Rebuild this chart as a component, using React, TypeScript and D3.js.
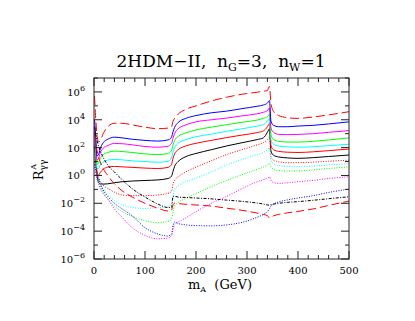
import React from 'react'
import * as d3 from 'd3'

// m_A grid (GeV) shared by every curve
const massA = [1, 3, 6, 9, 12, 18, 27, 40, 55, 75, 100, 125, 145, 152, 155, 158, 165, 180, 200, 230, 260, 290, 320, 332, 340, 344, 347, 352, 362, 380, 400, 430, 460, 500]

// log10 of R^A_gg
const redDashTop = [5.7, 4.3, 2.9, 2.4, 2.5, 3.0, 3.5, 3.75, 3.75, 3.63, 3.47, 3.36, 3.4, 3.5, 3.9, 4.1, 4.4, 4.75, 5.0, 5.35, 5.62, 5.83, 5.98, 6.05, 6.1, 6.4, 5.2, 4.6, 4.3, 4.15, 4.1, 4.2, 4.35, 4.58]
const blueSolid = [4.0, 3.0, 1.4, 1.5, 1.9, 2.35, 2.6, 2.75, 2.7, 2.6, 2.52, 2.47, 2.55, 2.75, 3.15, 3.45, 3.8, 4.1, 4.3, 4.5, 4.62, 4.8, 4.97, 5.06, 5.2, 5.38, 3.9, 3.6, 3.5, 3.5, 3.55, 3.6, 3.7, 3.85]
const magentaSolid = [3.5, 2.5, 1.1, 1.2, 1.6, 1.95, 2.15, 2.3, 2.28, 2.2, 2.08, 2.03, 2.1, 2.3, 2.7, 3.0, 3.35, 3.63, 3.85, 4.0, 4.12, 4.28, 4.43, 4.54, 4.65, 4.85, 3.4, 3.1, 2.95, 2.93, 2.95, 3.0, 3.1, 3.22]
const greenSolid = [3.2, 2.2, 0.8, 0.9, 1.2, 1.5, 1.65, 1.75, 1.72, 1.65, 1.55, 1.5, 1.58, 1.8, 2.2, 2.5, 2.8, 3.05, 3.27, 3.47, 3.65, 3.82, 3.98, 4.1, 4.22, 4.4, 2.9, 2.6, 2.45, 2.4, 2.4, 2.45, 2.55, 2.7]
const cyanSolid = [2.8, 1.8, 0.5, 0.5, 0.75, 0.95, 1.1, 1.15, 1.12, 1.05, 1.0, 0.95, 1.02, 1.25, 1.7, 2.0, 2.3, 2.57, 2.78, 2.97, 3.17, 3.35, 3.55, 3.65, 3.9, 4.1, 2.55, 2.25, 2.12, 2.05, 2.03, 2.06, 2.14, 2.24]
const redSolid = [2.5, 1.5, 0.3, 0.0, 0.2, 0.45, 0.6, 0.65, 0.62, 0.58, 0.53, 0.5, 0.58, 0.8, 1.25, 1.55, 1.85, 2.12, 2.31, 2.52, 2.72, 2.9, 3.08, 3.2, 3.5, 3.75, 2.15, 1.85, 1.73, 1.67, 1.65, 1.7, 1.78, 1.9]
const blackSolid = [2.2, 1.2, 0.0, -0.5, -0.6, -0.62, -0.6, -0.52, -0.45, -0.4, -0.36, -0.32, -0.22, -0.05, 0.3, 0.65, 1.0, 1.35, 1.58, 1.85, 2.12, 2.35, 2.58, 2.7, 3.1, 3.35, 1.75, 1.45, 1.33, 1.26, 1.23, 1.28, 1.36, 1.47]
const redDotted = [1.5, 0.8, 0.2, -0.1, -0.4, -0.7, -0.93, -1.2, -1.4, -1.45, -1.45, -1.4, -1.28, -1.15, -0.6, -0.35, -0.1, 0.25, 0.6, 1.05, 1.5, 1.85, 2.2, 2.35, 2.55, 2.75, 1.35, 1.1, 0.98, 0.92, 0.92, 0.96, 1.02, 1.1]
const cyanDotted = [1.2, 0.5, 0.0, -0.2, -0.5, -0.9, -1.35, -1.8, -2.1, -2.3, -2.37, -2.32, -2.25, -2.0, -1.5, -1.0, -0.75, -0.45, -0.2, 0.25, 0.75, 1.15, 1.5, 1.65, 1.85, 2.0, 1.05, 0.85, 0.72, 0.65, 0.65, 0.68, 0.75, 0.85]
const greenDotted = [1.0, 0.4, -0.1, -0.4, -0.7, -1.2, -1.7, -2.2, -2.6, -2.95, -3.25, -3.38, -3.3, -3.15, -2.6, -2.2, -1.95, -1.65, -1.3, -0.8, -0.35, 0.05, 0.45, 0.6, 0.75, 0.85, 0.6, 0.45, 0.35, 0.32, 0.33, 0.4, 0.5, 0.62]
const magentaDotted = [0.8, 0.2, -0.3, -0.6, -0.9, -1.3, -1.7, -2.4, -3.0, -3.75, -4.3, -4.55, -4.5, -4.3, -3.9, -3.5, -3.35, -3.05, -2.6, -2.0, -1.5, -0.95, -0.45, -0.3, -0.2, -0.1, -0.35, -0.5, -0.57, -0.52, -0.45, -0.35, -0.22, -0.09]
const blueDotted = [1.0, 0.5, 0.0, -0.3, -0.6, -1.05, -1.5, -2.0, -2.4, -2.9, -3.75, -4.2, -4.35, -4.2, -3.6, -3.35, -3.45, -3.55, -3.6, -3.62, -3.55, -3.37, -3.0, -2.8, -2.6, -2.4, -2.2, -2.05, -1.9, -1.75, -1.62, -1.45, -1.22, -0.98]
const blackDashDot = [3.5, 3.0, 2.5, 2.1, 1.8, 1.3, 0.75, 0.25, -0.3, -0.95, -1.55, -2.05, -2.3, -2.3, -1.5, -1.5, -1.55, -1.58, -1.62, -1.68, -1.77, -1.86, -1.98, -2.05, -2.12, -2.13, -2.1, -2.06, -2.0, -1.93, -1.88, -1.78, -1.67, -1.53]
const redDashLow = [3.0, 2.4, 1.8, 1.3, 1.0, 0.5, 0.0, -0.6, -1.1, -1.55, -2.0, -2.35, -2.55, -2.5, -2.1, -2.0, -2.02, -2.07, -2.12, -2.2, -2.35, -2.5, -2.7, -2.8, -2.88, -3.05, -3.0, -2.9, -2.8, -2.68, -2.58, -2.4, -2.15, -1.84]

const xTicks = [0, 100, 200, 300, 400, 500]
const yExps = [-6, -4, -2, 0, 2, 4, 6]

const series = [
  { v: blackSolid, c: '#000000', d: null },
  { v: redSolid, c: '#ff0000', d: null },
  { v: cyanSolid, c: '#00ffff', d: null },
  { v: greenSolid, c: '#00ff00', d: null },
  { v: magentaSolid, c: '#ff00ff', d: null },
  { v: blueSolid, c: '#0000ff', d: null },
  { v: redDashTop, c: '#ff0000', d: '9,4' },
  { v: redDotted, c: '#ff0000', d: '1,1.5' },
  { v: cyanDotted, c: '#00ffff', d: '1,1.5' },
  { v: greenDotted, c: '#00ff00', d: '1,1.5' },
  { v: magentaDotted, c: '#ff00ff', d: '1,1.5' },
  { v: blueDotted, c: '#0000ff', d: '1,1.5' },
  { v: blackDashDot, c: '#000000', d: '3,1.5,1,1.5' },
  { v: redDashLow, c: '#ff0000', d: '8,4' },
]

const L = 94, R = 349, T = 78, B = 259
const FONT = 'DejaVu Serif'

export default function App() {
  const x = d3.scaleLinear().domain([0, 500]).range([L, R])
  const y = d3.scaleLog().domain([1e-6, 1e7]).range([B, T])
  const line = d3.line<number>()
    .x((_, i) => x(massA[i]))
    .y(v => y(Math.pow(10, v)))
    .curve(d3.curveMonotoneX)

  const minorX = d3.range(0, 501, 20).filter(v => v % 100 !== 0)
  const allExp = d3.range(-6, 8)

  return (
    <svg width={415} height={321} style={{ position: 'absolute', left: 0, top: 0, background: '#fff' }}>
      <defs>
        <clipPath id="plot"><rect x={L} y={T} width={R - L} height={B - T} /></clipPath>
      </defs>
      <g clipPath="url(#plot)" fill="none" strokeWidth={1}>
        {series.map((s, i) => (
          <path key={i} d={line(s.v) || ''} stroke={s.c} strokeDasharray={s.d || undefined} />
        ))}
      </g>
      <g stroke="#222" strokeWidth={1}>
        <rect x={L} y={T} width={R - L} height={B - T} fill="none" />
        {xTicks.map(t => (
          <g key={'x' + t}>
            <line x1={x(t)} x2={x(t)} y1={B} y2={B - 8} />
            <line x1={x(t)} x2={x(t)} y1={T} y2={T + 8} />
          </g>
        ))}
        {minorX.map(t => (
          <g key={'mx' + t}>
            <line x1={x(t)} x2={x(t)} y1={B} y2={B - 4} />
            <line x1={x(t)} x2={x(t)} y1={T} y2={T + 4} />
          </g>
        ))}
        {allExp.map(e => {
          const len = e % 2 === 0 ? 8 : 4
          const yy = y(Math.pow(10, e))
          return (
            <g key={'y' + e}>
              <line x1={L} x2={L + len} y1={yy} y2={yy} />
              <line x1={R} x2={R - len} y1={yy} y2={yy} />
            </g>
          )
        })}
      </g>
      <g fontFamily={FONT} fontSize={10} fill="#000">
        {xTicks.map(t => (
          <text key={'xl' + t} x={x(t)} y={B + 15} textAnchor="middle">{t}</text>
        ))}
        {yExps.map(e => (
          <text key={'yl' + e} x={85} y={y(Math.pow(10, e)) + 4} textAnchor="end">
            10<tspan dy={-5} fontSize={8}>{e < 0 ? '\u2212' + Math.abs(e) : e}</tspan>
          </text>
        ))}
      </g>
      <text x={221} y={67} textAnchor="middle" fontFamily={FONT} fontSize={17} style={{ whiteSpace: 'pre' }}>
        2HDM{'\u2212'}II,  n<tspan dy={4} fontSize={11}>G</tspan><tspan dy={-4}>=3,  n</tspan><tspan dy={4} fontSize={11}>W</tspan><tspan dy={-4}>=1</tspan>
      </text>
      <text x={220} y={289} textAnchor="middle" fontFamily={FONT} fontSize={13} style={{ whiteSpace: 'pre' }}>
        m<tspan dy={3} fontSize={8}>A</tspan><tspan dy={-3}>  (GeV)</tspan>
      </text>
      <text transform="translate(43,170) rotate(-90)" textAnchor="middle" fontFamily={FONT} fontSize={13}>
        R<tspan dy={3} fontSize={9}>{'\u03b3\u03b3'}</tspan><tspan dx={-10} dy={-10} fontSize={8}>A</tspan>
      </text>
    </svg>
  )
}
